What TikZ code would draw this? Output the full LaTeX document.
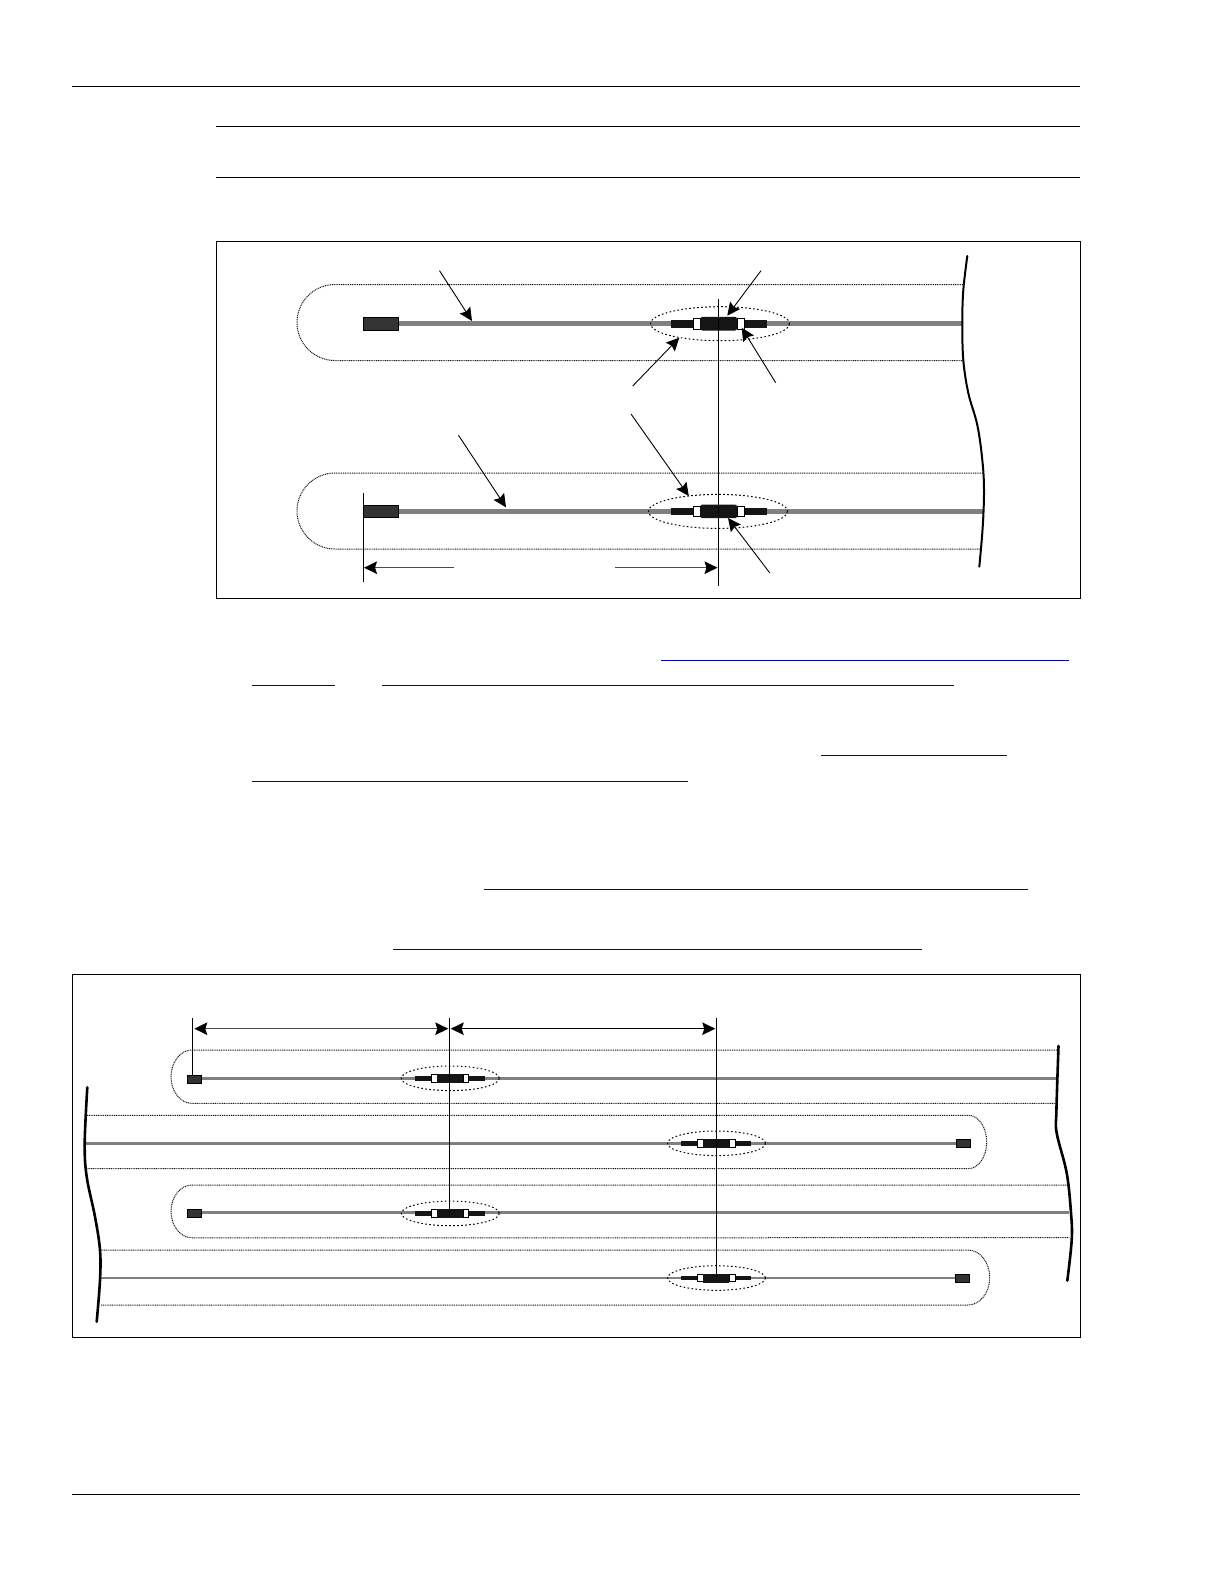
\documentclass[tikz,border=0pt]{standalone}
\usetikzlibrary{arrows.meta}
\definecolor{cablegray}{HTML}{808080}
\definecolor{linkblue}{HTML}{0000A8}
\definecolor{plugfill}{HTML}{333333}
\definecolor{splicefill}{HTML}{151515}
\tikzset{
 rule/.style={line width=0.9pt,black},
 linkrule/.style={line width=0.9pt,linkblue},
 frameline/.style={line width=1pt,black},
 dots/.style={line width=1pt,dash pattern=on 1pt off 0.8pt,black!90},
 ringdots/.style={line width=1pt,dash pattern=on 1.6pt off 2.4pt,black},
 cableA/.style={line width=5.5pt,cablegray},
 cableB/.style={line width=3pt,cablegray},
 cableC/.style={line width=2pt,cablegray},
 plugbox/.style={draw=black,fill=plugfill,line width=0.8pt,inner sep=0pt,minimum width=#1},
 edgecurve/.style={line width=2pt,black,line cap=round},
 edgecurvethick/.style={line width=2.6pt,black,line cap=round},
 pointer/.style={line width=0.9pt,black,-{Stealth[length=13pt,width=12.5pt,inset=2pt]}},
 dimarrow/.style={line width=1.2pt,black!70,-{Stealth[length=13pt,width=12.5pt,inset=2pt,black]}},
 dimboth/.style={line width=1.2pt,{Stealth[length=13pt,width=12.5pt,inset=2pt,black]}-{Stealth[length=13pt,width=12.5pt,inset=2pt,black]}},
 vline/.style={line width=1pt,black},
}
\newcommand{\bigsplice}[3]{%
 \begin{scope}[shift={(#1,#2)}]
  \fill[splicefill] (-48,-3.8) rectangle (48,3.8);
  \filldraw[fill=white,draw=black,line width=0.7pt] (-26,-5.3) rectangle (-18.6,5.3);
  \filldraw[fill=white,draw=black,line width=0.7pt] (18,-5.3) rectangle (25.4,5.3);
  \fill[splicefill,rounded corners=2pt] (-18.6,-6.8) rectangle (18,6.8);
  \draw[ringdots] (#3,0) ellipse [x radius=69.5,y radius=17];
 \end{scope}}
\newcommand{\smallsplice}[2]{%
 \begin{scope}[shift={(#1,#2)}]
  \fill[splicefill] (-35,-2.4) rectangle (35,2.4);
  \filldraw[fill=white,draw=black,line width=0.7pt] (-18.6,-3.8) rectangle (-12.6,3.8);
  \filldraw[fill=white,draw=black,line width=0.7pt] (13.4,-3.8) rectangle (19,3.8);
  \fill[splicefill] (-12.6,-4.5) rectangle (13.4,4.5);
  \draw[ringdots] (0.5,0) ellipse [x radius=49,y radius=12.3];
 \end{scope}}
\begin{document}
\begin{tikzpicture}[x=1pt,y=-1pt]
\useasboundingbox (0,0) rectangle (1224,1584);
\fill[white] (0,0) rectangle (1224,1584);
% page rules
\draw[rule] (72,86) -- (1080,86);
\draw[rule] (216,126.5) -- (1080,126.5);
\draw[rule] (216,177.5) -- (1080,177.5);
\draw[rule] (72,1494.5) -- (1080,1494.5);
% link underlines
\draw[linkrule] (661,660) -- (1069,660);
\draw[linkrule] (252,685) -- (335,685);
\draw[linkrule] (382,685) -- (954,685);
\draw[linkrule] (821,755) -- (1007,755);
\draw[linkrule] (252,781) -- (688,781);
\draw[linkrule] (484,889) -- (1028,889);
\draw[linkrule] (393,949) -- (922,949);
% ---------- top figure ----------
\draw[frameline] (216,241.5) rectangle (1080,598);
\draw[dots] (963,284.5) -- (335,284.5) arc[start angle=270,end angle=90,radius=38] -- (963,360.5);
\draw[dots] (983,473) -- (335,473) arc[start angle=270,end angle=90,radius=38] -- (979.5,549);
\node[plugbox=35pt,minimum height=12.5pt] (plugA) at (381,323.7) {};
\node[plugbox=35pt,minimum height=12.5pt] (plugB) at (381,511.4) {};
\coordinate (cableAend) at (962.5,323.7);
\coordinate (cableBend) at (983,511.4);
\draw[cableA] (plugA.east) -- (cableAend);
\draw[cableA] (plugB.east) -- (cableBend);
\bigsplice{719}{323.7}{1}
\bigsplice{719}{511.4}{-1}
\draw[edgecurve] plot[smooth,tension=0.6] coordinates {(967.3,256) (963.3,290) (962.3,323) (963.3,360) (968.3,393) (977.3,425) (982.3,460) (984,490) (982.7,527) (979.3,566.7)};
\coordinate (vtopA) at (718.3,299);
\coordinate (vtopB) at (718.3,586);
\draw[vline] (vtopA) -- (vtopB);
\coordinate (vplugT) at (363.3,493.3);
\coordinate (vplugB) at (363.3,582);
\draw[vline] (vplugT) -- (vplugB);
\coordinate (dl0) at (454,567.7);
\coordinate (dl1) at (364,567.7);
\coordinate (dr0) at (615,567.7);
\coordinate (dr1) at (717.5,567.7);
\draw[dimarrow] (dl0) -- (dl1);
\draw[dimarrow] (dr0) -- (dr1);
\coordinate (p1s) at (439.5,270.7); \coordinate (p1e) at (472,321);
\coordinate (p2s) at (761,270.7);   \coordinate (p2e) at (727.3,315.7);
\coordinate (p3s) at (632.7,386);   \coordinate (p3e) at (679.3,337.7);
\coordinate (p4s) at (775.7,382.7); \coordinate (p4e) at (741.7,327.7);
\coordinate (p5s) at (458.5,435.3); \coordinate (p5e) at (506,507.3);
\coordinate (p6s) at (631,414);     \coordinate (p6e) at (688.8,496);
\coordinate (p7s) at (769.6,572.7); \coordinate (p7e) at (728,518);
\foreach \n in {1,...,7} {\draw[pointer] (p\n s) -- (p\n e);}
% ---------- bottom figure ----------
\draw[frameline] (72.3,974.3) rectangle (1080,1337.5);
% loops
\draw[dots] (1057,1050) -- (192,1050) arc[start angle=270,end angle=90,x radius=21,y radius=26.7] -- (1056.5,1103.4);
\draw[dots] (87,1115.3) -- (968.3,1115.3) arc[start angle=-90,end angle=90,x radius=18.4,y radius=26.7] -- (87,1168.7);
\draw[dots] (1067.7,1185) -- (192,1185) arc[start angle=270,end angle=90,x radius=21,y radius=26.4] -- (1069,1237.7);
\draw[dots] (100.5,1250) -- (968,1250) arc[start angle=-90,end angle=90,x radius=21.7,y radius=27.5] -- (100.5,1305);
% plugs and cables
\node[plugbox=14.2pt,minimum height=8.4pt] (r1) at (194.7,1079.3) {};
\node[plugbox=14.2pt,minimum height=8.4pt] (r2) at (963.3,1143.3) {};
\node[plugbox=14.2pt,minimum height=8.7pt] (r3) at (194.7,1213.5) {};
\node[plugbox=14.2pt,minimum height=8.7pt] (r4) at (962.5,1278.5) {};
\coordinate (r1end) at (1057,1078.3);
\coordinate (r2end) at (86,1143.3);
\coordinate (r3end) at (1069,1212.3);
\coordinate (r4end) at (99.5,1278);
\draw[cableB] (r1.east |- r1end) -- (r1end);
\draw[cableB] (r2.west |- r2end) -- (r2end);
\draw[cableB] (r3.east |- r3end) -- (r3end);
\draw[cableC] (r4.west |- r4end) -- (r4end);
\smallsplice{449.8}{1078.3}
\smallsplice{716}{1143.3}
\smallsplice{449.8}{1213.4}
\smallsplice{716}{1278}
% edges
\draw[edgecurvethick] plot[smooth,tension=0.6] coordinates {(87.3,1087.3) (84.7,1143.3) (86.7,1176.7) (95,1216.7) (100,1250) (100,1280) (96.7,1321.7)};
\draw[edgecurvethick] plot[smooth,tension=0.6] coordinates {(1058.5,1046) (1056.4,1111) (1056.7,1133) (1066.7,1173) (1071,1213) (1071.7,1240) (1067.3,1280.7)};
% verticals and dims
\coordinate (w1t) at (192.3,1018.3); \coordinate (w1b) at (192.3,1076);
\coordinate (w2t) at (449.3,1018.3); \coordinate (w2b) at (449.3,1215);
\coordinate (w3t) at (716.3,1018.3); \coordinate (w3b) at (716.3,1276.7);
\draw[vline] (w1t) -- (w1b);
\draw[vline] (w2t) -- (w2b);
\draw[vline] (w3t) -- (w3b);
\coordinate (d1a) at (194.3,1028.7); \coordinate (d1b) at (448.3,1028.7);
\coordinate (d2a) at (450.7,1028.7); \coordinate (d2b) at (715.3,1028.7);
\draw[dimboth,black!70] (d1a) -- (d1b);
\draw[dimboth,black] (d2a) -- (d2b);
\end{tikzpicture}
\end{document}
